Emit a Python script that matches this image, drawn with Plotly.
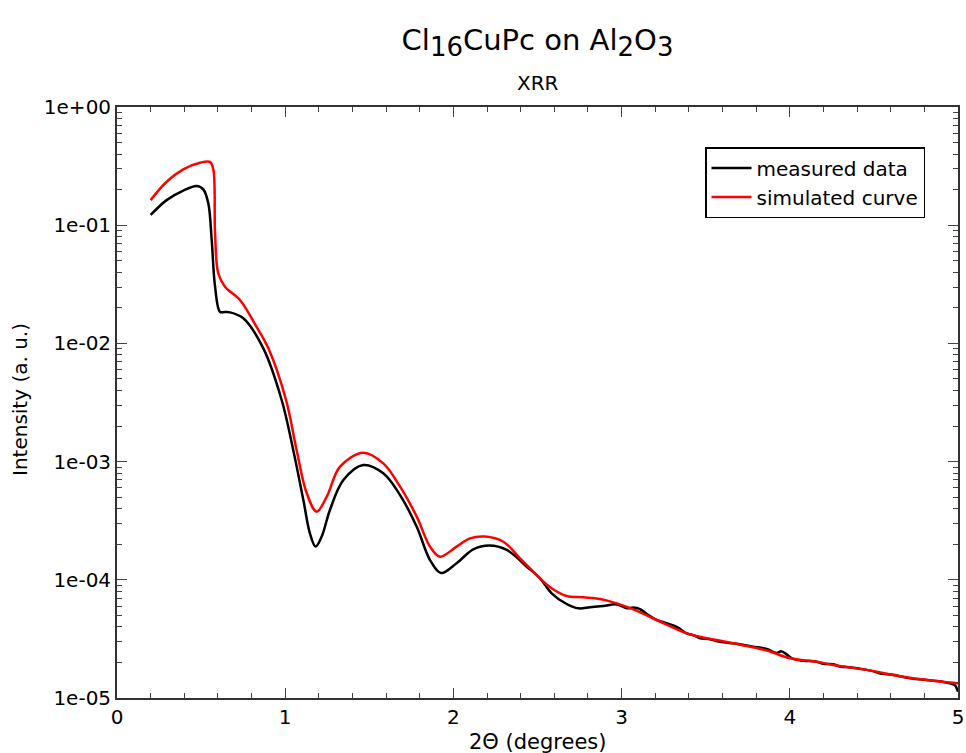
import plotly.graph_objects as go

# measured data
meas_x = [0.2, 0.295, 0.394, 0.474, 0.513, 0.543, 0.563, 0.583, 0.612, 0.64, 0.672, 0.751, 0.87,
          0.979, 1.048, 1.108, 1.147, 1.181, 1.217, 1.266, 1.346, 1.464, 1.583, 1.683, 1.782,
          1.861, 1.926, 2.019, 2.118, 2.214, 2.317, 2.436, 2.515, 2.584, 2.673, 2.743, 2.812,
          2.891, 2.971, 3.03, 3.07, 3.109, 3.15, 3.209, 3.268, 3.33, 3.387, 3.43, 3.466, 3.52,
          3.57, 3.664, 3.72, 3.78, 3.863, 3.92, 3.95, 3.981, 4.02, 4.08, 4.16, 4.2, 4.259, 4.3,
          4.35, 4.457, 4.5, 4.55, 4.6, 4.655, 4.7, 4.75, 4.853, 4.9, 4.95, 4.98, 5.0]
meas_y = [0.122, 0.163, 0.196, 0.215, 0.201, 0.153, 0.075, 0.0302, 0.0185, 0.0184, 0.0183, 0.0163,
          0.00908, 0.00332, 0.00125, 4.73e-4, 2.47e-4, 1.91e-4, 2.32e-4, 3.90e-4, 6.98e-4,
          9.35e-4, 7.96e-4, 5.21e-4, 2.81e-4, 1.47e-4, 1.14e-4, 1.38e-4, 1.81e-4, 1.95e-4,
          1.79e-4, 1.29e-4, 1.03e-4, 7.69e-5, 6.24e-5, 5.74e-5, 5.85e-5, 6.0e-5, 6.19e-5,
          5.74e-5, 5.82e-5, 5.66e-5, 5.13e-5, 4.57e-5, 4.29e-5, 3.98e-5, 3.52e-5, 3.39e-5,
          3.20e-5, 3.16e-5, 3.02e-5, 2.90e-5, 2.82e-5, 2.72e-5, 2.60e-5, 2.40e-5, 2.48e-5,
          2.34e-5, 2.14e-5, 2.07e-5, 2.03e-5, 1.95e-5, 1.93e-5, 1.84e-5, 1.82e-5, 1.73e-5,
          1.68e-5, 1.60e-5, 1.58e-5, 1.53e-5, 1.48e-5, 1.45e-5, 1.40e-5, 1.38e-5, 1.33e-5,
          1.29e-5, 1.13e-5]

# simulated curve
sim_x = [0.2, 0.295, 0.394, 0.493, 0.553, 0.573, 0.583, 0.602, 0.642, 0.731, 0.83, 0.9, 1.005,
         1.068, 1.128, 1.187, 1.247, 1.326, 1.464, 1.583, 1.683, 1.782, 1.861, 1.92, 2.019,
         2.099, 2.188, 2.297, 2.396, 2.515, 2.584, 2.673, 2.772, 2.872, 2.971, 3.07, 3.209,
         3.387, 3.466, 3.664, 3.863, 4.001, 4.16, 4.259, 4.457, 4.655, 4.853, 5.0]
sim_y = [0.163, 0.233, 0.297, 0.338, 0.343, 0.293, 0.0853, 0.0392, 0.0302, 0.0233, 0.0138,
         0.00908, 0.00332, 0.00125, 5.40e-4, 3.77e-4, 5.05e-4, 9.06e-4, 1.19e-3, 9.66e-4,
         6.14e-4, 3.42e-4, 1.91e-4, 1.57e-4, 1.91e-4, 2.24e-4, 2.32e-4, 2.10e-4, 1.52e-4,
         1.03e-4, 8.47e-5, 7.29e-5, 7.11e-5, 6.89e-5, 6.32e-5, 5.62e-5, 4.57e-5, 3.52e-5,
         3.30e-5, 2.90e-5, 2.52e-5, 2.17e-5, 2.03e-5, 1.90e-5, 1.73e-5, 1.53e-5, 1.40e-5, 1.33e-5]

y_tickvals = [1e-5, 1e-4, 1e-3, 1e-2, 1e-1, 1e0]
y_ticktext = ["1e-05", "1e-04", "1e-03", "1e-02", "1e-01", "1e+00"]

FONT = "DejaVu Sans, sans-serif"
L, R, T, B = 117, 958, 107, 698
PW, PH = R - L, B - T

def sub(s):
    return '<sub><span style="font-size:26px">' + s + '</span></sub>'

fig = go.Figure()
fig.add_trace(go.Scatter(x=meas_x, y=meas_y, mode="lines", name="measured data",
                         line=dict(color="black", width=2.5, shape="spline", smoothing=1.0)))
fig.add_trace(go.Scatter(x=sim_x, y=sim_y, mode="lines", name="simulated curve",
                         line=dict(color="red", width=2.5, shape="spline", smoothing=1.0)))

fig.update_layout(
    width=966, height=753,
    margin=dict(l=L, r=966 - R, t=T, b=753 - B),
    paper_bgcolor="white", plot_bgcolor="white",
    font=dict(family=FONT, size=20, color="black"),
    title=dict(text="Cl" + sub("16") + "CuPc on Al" + sub("2") + "O" + sub("3"),
               x=537.5 / 966, xanchor="center", y=1 - 40 / 753, yanchor="middle",
               font=dict(size=29, family=FONT)),
    annotations=[
        dict(text="XRR", x=0.5, xref="paper", y=(B - 83) / PH, yref="paper",
             xanchor="center", yanchor="middle", showarrow=False,
             font=dict(size=20, family=FONT)),
        dict(text="2Θ (degrees)", x=0.5, xref="paper", y=(B - 742) / PH, yref="paper",
             xanchor="center", yanchor="middle", showarrow=False,
             font=dict(size=21, family=FONT)),
        dict(text="Intensity (a. u.)", x=(20 - L) / PW, xref="paper", y=(B - 400) / PH,
             yref="paper", xanchor="center", yanchor="middle", showarrow=False,
             textangle=-90, font=dict(size=20, family=FONT)),
    ],
    legend=dict(x=(705 - L) / PW, y=(B - 147) / PH, xanchor="left", yanchor="top",
                bordercolor="black", borderwidth=1.5, bgcolor="white",
                font=dict(size=20, family=FONT), itemwidth=40, tracegroupgap=0),
    showlegend=True,
)

fig.update_xaxes(range=[0, 5], dtick=1, tick0=0, ticks="inside", ticklen=10, tickwidth=1.2,
                 showline=True, linecolor="#333", linewidth=1.8, mirror="ticks",
                 showgrid=False, zeroline=False, automargin=False,
                 minor=dict(dtick=0.2, ticks="inside", ticklen=5, tickwidth=1.2, showgrid=False),
                 tickfont=dict(size=20))
fig.update_yaxes(type="log", range=[-5, 0], tickvals=y_tickvals, ticktext=y_ticktext,
                 ticks="inside", ticklen=10, tickwidth=1.2,
                 showline=True, linecolor="#333", linewidth=1.8, mirror="ticks",
                 showgrid=False, zeroline=False, automargin=False,
                 minor=dict(dtick="D1", ticks="inside", ticklen=5, tickwidth=1.2, showgrid=False),
                 tickfont=dict(size=20))

fig.write_html("out.html")
